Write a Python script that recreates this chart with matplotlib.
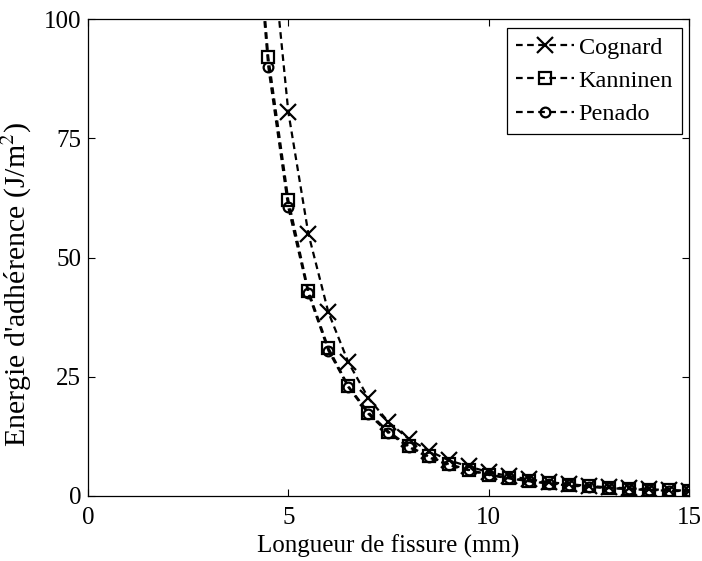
import matplotlib.pyplot as plt

plt.rcParams['font.family'] = ['Liberation Serif', 'DejaVu Serif']
plt.rcParams['mathtext.fontset'] = 'stix'

# marker positions (mm)
x = [4.0, 4.5, 5.0, 5.5, 6.0, 6.5, 7.0, 7.5, 8.0, 8.5, 9.0, 9.5, 10.0,
     10.5, 11.0, 11.5, 12.0, 12.5, 13.0, 13.5, 14.0, 14.5, 15.0]

cognard = [170, 123, 80.5, 55, 38.5, 28, 20.5, 15.5, 12, 9.5, 7.5, 6.2, 5.0,
           4.2, 3.5, 2.9, 2.5, 2.1, 1.8, 1.6, 1.4, 1.25, 1.1]
kanninen = [143, 92, 62, 43, 31, 23, 17.5, 13.5, 10.5, 8.3, 6.7, 5.5, 4.5,
            3.8, 3.2, 2.7, 2.3, 2.0, 1.7, 1.5, 1.3, 1.15, 1.0]
penado = [140, 90, 60.5, 42.5, 30.5, 22.8, 17.2, 13.2, 10.3, 8.1, 6.5, 5.4, 4.4,
          3.7, 3.1, 2.6, 2.2, 1.9, 1.65, 1.45, 1.25, 1.1, 0.95]

fig = plt.figure(figsize=(7.02, 5.61), dpi=100)
ax = fig.add_axes([0.1254, 0.1159, 0.856, 0.850])

dash = (0, (3, 2))
ax.plot(x, cognard, color='black', lw=1.6, linestyle=dash, marker='x',
        markersize=12, markeredgewidth=1.6, label='Cognard')
ax.plot(x, kanninen, color='black', lw=1.6, linestyle=dash, marker='s',
        markersize=9, markeredgewidth=1.6, markerfacecolor='none', label='Kanninen')
ax.plot(x, penado, color='black', lw=1.6, linestyle=dash, marker='o',
        markersize=7, markeredgewidth=1.6, markerfacecolor='none', label='Penado')

ax.set_xlim(0, 15)
ax.set_ylim(0, 100)
ax.set_xticks([0, 5, 10, 15])
ax.set_yticks([0, 25, 50, 75, 100])
ax.tick_params(direction='in', top=True, right=True, labelsize=18, length=5,
               width=0.8, pad=5)
ax.tick_params(axis='x', pad=8)
for s in ax.spines.values():
    s.set_linewidth(0.9)

ax.set_xlabel('Longueur de fissure (mm)', fontsize=18, labelpad=4)
ax.set_ylabel("Energie d'adhérence (J/m$^2$)", fontsize=21.5)
ax.yaxis.set_label_coords(-0.09, 0.444)

leg = ax.legend(loc='upper right', fontsize=17.5, frameon=True, fancybox=False,
                edgecolor='black', framealpha=1, handlelength=2.4,
                borderpad=0.35, labelspacing=0.46, handletextpad=0.2,
                borderaxespad=0, bbox_to_anchor=(0.988, 0.981))
leg.get_frame().set_linewidth(0.9)

fig.savefig('out.png', dpi=100)
